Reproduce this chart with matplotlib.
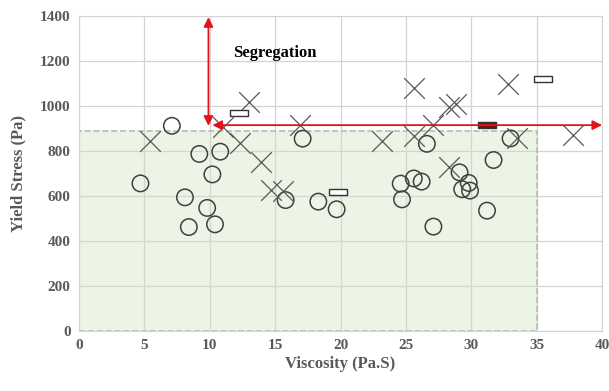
import matplotlib.pyplot as plt
from matplotlib.patches import Rectangle

# circles (open)
circ_x = [4.7, 7.1, 8.1, 8.4, 9.2, 9.8, 10.2, 10.4, 10.8, 17.1, 15.8, 18.3, 19.7,
          24.6, 24.7, 25.6, 26.2, 26.6, 27.1, 29.1, 29.3, 29.8, 29.9, 31.2, 31.7, 33.0]
circ_y = [656, 912, 594, 462, 787, 547, 696, 474, 797, 855, 582, 575, 541,
          655, 585, 678, 664, 832, 464, 705, 630, 658, 624, 535, 760, 856]

# crosses
cross_x = [5.4, 11.0, 12.3, 13.0, 13.9, 14.7, 15.6, 16.9, 23.2, 25.6, 25.6, 27.1,
           28.3, 28.3, 28.8, 32.8, 33.5, 37.8]
cross_y = [846, 905, 835, 1018, 752, 627, 622, 916, 845, 1078, 868, 915,
           728, 997, 1008, 1100, 856, 871]

# dash markers
dash_x = [12.2, 19.8, 35.5]
dash_y = [967, 618, 1120]
dashfill_x = [31.2]
dashfill_y = [915]

plt.rcParams['font.family'] = 'Liberation Serif'

fig = plt.figure(figsize=(6.09, 3.91), dpi=100)
ax = fig.add_axes([0.1297, 0.1535, 0.859, 0.8055])

# stable zone (grid shows through)
ax.add_patch(Rectangle((0, 0), 35, 890, facecolor=(0.80, 0.89, 0.74, 0.38), edgecolor='#b5bfae',
                       linestyle='--', linewidth=1.2, zorder=2))

rect_marker = [(-1.6, -0.45), (1.6, -0.45), (1.6, 0.45), (-1.6, 0.45), (-1.6, -0.45)]

ax.scatter(circ_x, circ_y, s=140, facecolors='none', edgecolors='#404040', linewidths=1.1, zorder=3)
ax.scatter(cross_x, cross_y, s=220, marker='x', color='#585858', linewidths=0.9, zorder=3)
ax.scatter(dash_x, dash_y, s=170, marker=rect_marker, facecolors='white', edgecolors='#333333',
           linewidths=1.0, zorder=3)
ax.scatter(dashfill_x, dashfill_y, s=170, marker=rect_marker, facecolors='#7a1010', edgecolors='#333333',
           linewidths=1.0, zorder=4)

# segregation arrows
ax.annotate('', xy=(9.9, 1395), xytext=(9.9, 912),
            arrowprops=dict(arrowstyle='<|-|>', color='#e0141e', lw=1.3,
                            mutation_scale=14, shrinkA=0, shrinkB=0), zorder=5)
ax.annotate('', xy=(40, 915), xytext=(10.2, 915),
            arrowprops=dict(arrowstyle='<|-|>', color='#e0141e', lw=1.3,
                            mutation_scale=14, shrinkA=0, shrinkB=0), zorder=5)
ax.text(11.8, 1235, 'Segregation', fontsize=12, fontweight='bold', color='black',
        va='center', ha='left')

ax.set_xlim(0, 40)
ax.set_ylim(0, 1400)
ax.set_xticks(range(0, 41, 5))
ax.set_yticks(range(0, 1401, 200))
ax.grid(True, color='#d4d4d4', linewidth=0.9, zorder=1)
ax.set_axisbelow(True)
for s in ax.spines.values():
    s.set_color('#d4d4d4')
ax.tick_params(length=0, labelsize=11, labelcolor='#595959', pad=6)
for lab in ax.get_xticklabels() + ax.get_yticklabels():
    lab.set_fontweight('bold')

ax.set_xlabel('Viscosity (Pa.S)', fontsize=12, fontweight='bold', color='#595959', labelpad=3)
ax.set_ylabel('Yield Stress (Pa)', fontsize=12, fontweight='bold', color='#595959', labelpad=10)

fig.savefig('out.png', dpi=100)
